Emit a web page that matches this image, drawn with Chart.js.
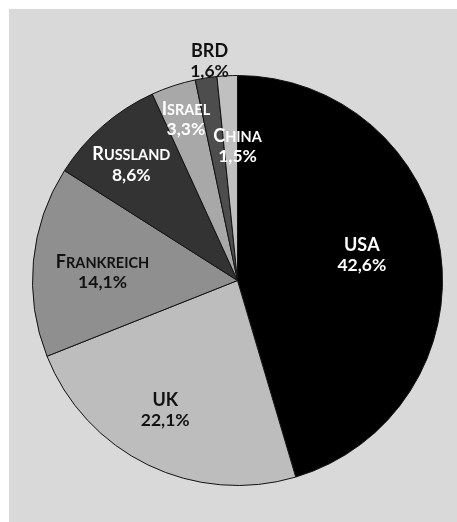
<!DOCTYPE html>
<html>
<head>
<meta charset="utf-8">
<script src="https://cdn.jsdelivr.net/npm/chart.js@4/dist/chart.umd.min.js"></script>
<style>
    html, body { margin: 0; padding: 0; background: #fff; }
    #panel {
        position: absolute; left: 9px; top: 9px; right: 0; bottom: 0;
        background: #d9d9d9;
    }
    #wrap { position: absolute; left: 0; top: 0; width: 457px; height: 522px; }
</style>
</head>
<body>
<div id="panel"></div>
<div id="wrap"><canvas id="pieChart"></canvas></div>
<script>
// Anteile (in %)
const countries = ['USA', 'UK', 'Frankreich', 'Russland', 'Israel', 'BRD', 'China'];
const shares = [42.6, 22.1, 14.1, 8.6, 3.3, 1.6, 1.5];

const sliceColors = ['#000000', '#bdbdbd', '#8f8f8f', '#333333', '#a8a8a8', '#4d4d4d', '#c0c0c0'];
const textColors = ['#fff', '#111', '#111', '#fff', '#fff', '#111', '#fff'];
// label placement: fraction of radius, angle nudge in degrees
const labelRadius = [0.62, 0.72, 0.66, 0.77, 0.83, 1.084, 0.66];
const labelShift = [-3.7, 3.4, -1.4, -1.2, 0.6, 1.6, 2.9];

const FAMILY = 'Lato, "Open Sans", sans-serif';

function formatShare(v) {
    return v.toFixed(1).replace('.', ',') + '%';
}

// small caps by hand: capitals at full size, the rest as smaller capitals
function drawSmallCaps(ctx, text, cx, baseline) {
    const parts = [...text].map(ch => {
        const big = ch === ch.toUpperCase();
        return { ch: ch.toUpperCase(), font: 'bold ' + (big ? 18 : 14.5) + 'px ' + FAMILY };
    });
    let total = 0;
    parts.forEach(p => { ctx.font = p.font; p.w = ctx.measureText(p.ch).width; total += p.w; });
    let x = cx - total / 2;
    ctx.textAlign = 'left';
    ctx.textBaseline = 'alphabetic';
    parts.forEach(p => { ctx.font = p.font; ctx.fillText(p.ch, x, baseline); x += p.w; });
}

const sliceLabels = {
    id: 'sliceLabels',
    afterDatasetsDraw(chart) {
        const ctx = chart.ctx;
        const arcs = chart.getDatasetMeta(0).data;
        ctx.save();
        arcs.forEach((arc, i) => {
            const p = arc.getProps(['x', 'y', 'startAngle', 'endAngle', 'outerRadius'], true);
            const a = (p.startAngle + p.endAngle) / 2 + labelShift[i] * Math.PI / 180;
            const r = p.outerRadius * labelRadius[i];
            const x = p.x + Math.cos(a) * r;
            const y = p.y + Math.sin(a) * r;
            ctx.fillStyle = textColors[i];
            drawSmallCaps(ctx, countries[i], x, y - 3.5);
            ctx.font = 'bold 17.5px ' + FAMILY;
            ctx.textAlign = 'center';
            ctx.textBaseline = 'alphabetic';
            ctx.fillText(formatShare(shares[i]), x, y + 17);
        });
        ctx.restore();
    }
};

new Chart(document.getElementById('pieChart'), {
    type: 'pie',
    data: {
        labels: countries,
        datasets: [{
            data: shares,
            backgroundColor: sliceColors,
            borderColor: '#111',
            borderWidth: 1
        }]
    },
    options: {
        responsive: true,
        maintainAspectRatio: false,
        animation: false,
        layout: { padding: { left: 32, right: 14, top: 75, bottom: 36 } },
        plugins: {
            legend: { display: false },
            tooltip: { enabled: false }
        }
    },
    plugins: [sliceLabels]
});
</script>
</body>
</html>
